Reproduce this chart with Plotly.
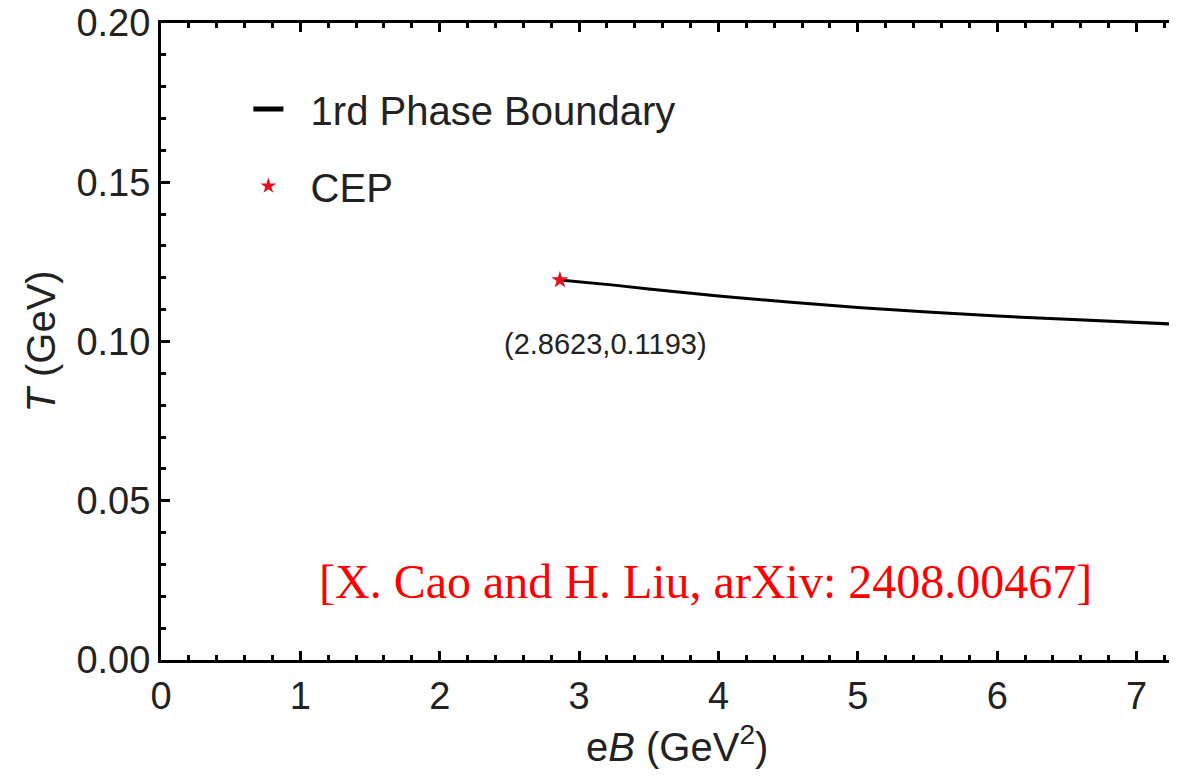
import plotly.graph_objects as go

# Phase boundary
eB_boundary = [2.8623, 3.0, 3.25, 3.5, 4.0, 4.5, 5.0, 5.5, 6.0, 6.5, 7.0, 7.3, 7.4]
T_boundary = [0.1193, 0.1188, 0.1177, 0.1165, 0.1143, 0.1124, 0.1107, 0.1093, 0.1080, 0.1070, 0.1060, 0.1054, 0.1052]

# Critical end point
cep_eB = [2.8623]
cep_T = [0.1193]
cep_label = "(2.8623,0.1193)"

x_ticks = [0, 1, 2, 3, 4, 5, 6, 7]
y_ticks = [0.00, 0.05, 0.10, 0.15, 0.20]
y_ticklabels = ["0.00", "0.05", "0.10", "0.15", "0.20"]

citation = "[X. Cao and H. Liu, arXiv: 2408.00467]"

sans = "Liberation Sans, Arial, sans-serif"
serif = "Liberation Serif, Times New Roman, serif"
NB = "\u00a0\u00a0"

fig = go.Figure()
fig.add_trace(go.Scatter(
    x=eB_boundary, y=T_boundary, mode="lines",
    line=dict(color="black", width=3),
    name=NB + "1rd Phase Boundary", legendgroup="a",
))
fig.add_trace(go.Scatter(
    x=cep_eB, y=cep_T, mode="markers",
    marker=dict(symbol="star", size=13, color="#e3101e", line=dict(width=0)),
    name=NB + "CEP", legendgroup="b",
))

fig.add_annotation(x=cep_eB[0], y=cep_T[0], xref="x", yref="y", text=cep_label,
                   showarrow=False, xshift=46, yshift=-64,
                   font=dict(family=sans, size=29, color="#222222"))
fig.add_annotation(x=0.536, y=0.123, xref="paper", yref="paper", text=citation,
                   showarrow=False, xanchor="center", yanchor="middle",
                   font=dict(family=serif, size=48, color="#ff0000"))
fig.add_annotation(x=0.508, y=-0.1324, xref="paper", yref="paper",
                   text="e<i>B</i> (GeV<sup>2</sup>)", showarrow=False,
                   xanchor="center", yanchor="middle",
                   font=dict(family=sans, size=40, color="#222222"))
fig.add_annotation(x=-0.119, y=0.5, xref="paper", yref="paper",
                   text="<i>T</i> (GeV)", showarrow=False, textangle=-90,
                   xanchor="center", yanchor="middle",
                   font=dict(family=sans, size=40, color="#222222"))

axis_common = dict(
    showgrid=False, zeroline=False, showline=True, linecolor="black", linewidth=3,
    ticks="inside", ticklen=9, tickwidth=2.5, tickcolor="black",
    ticklabeloverflow="allow", automargin=False,
    tickfont=dict(family=sans, size=38, color="#222222"),
)

fig.update_xaxes(
    range=[0, 7.29], tickvals=x_ticks, ticktext=[str(v) for v in x_ticks],
    mirror="ticks",
    minor=dict(dtick=0.2, ticks="inside", ticklen=5, tickwidth=2.5, tickcolor="black"),
    **axis_common,
)
fig.update_yaxes(
    range=[0, 0.2], tickvals=y_ticks, ticktext=y_ticklabels,
    mirror=False,
    minor=dict(dtick=0.01, ticks="inside", ticklen=5, tickwidth=2.5, tickcolor="black"),
    **axis_common,
)

fig.update_layout(
    width=1169, height=762,
    margin=dict(l=153, r=0, t=14.5, b=109.5),
    plot_bgcolor="white", paper_bgcolor="white",
    showlegend=True,
    legend=dict(x=0.086, y=0.916, xanchor="left", yanchor="top",
                bgcolor="rgba(0,0,0,0)", tracegroupgap=22, itemsizing="constant",
                font=dict(family=sans, size=40, color="#222222")),
)

fig.write_html("out.html")
